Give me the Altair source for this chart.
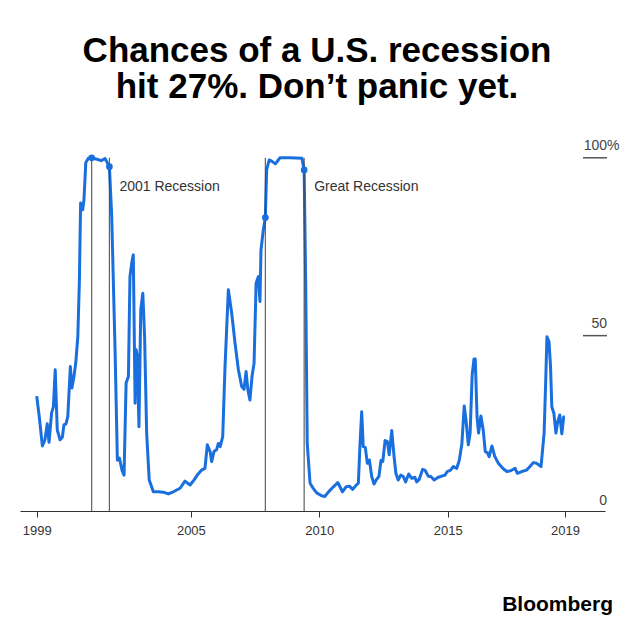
import altair as alt
import pandas as pd

# ---------------- data ----------------
YEARS = [
    1999.00, 1999.10, 1999.22, 1999.32, 1999.41, 1999.48, 1999.58, 1999.65, 1999.72, 1999.80,
    1999.91, 2000.00, 2000.06, 2000.14, 2000.21, 2000.31, 2000.37, 2000.45, 2000.52, 2000.60,
    2000.66, 2000.71, 2000.79, 2000.84, 2000.91, 2001.01, 2001.14, 2001.34, 2001.51, 2001.66,
    2001.72, 2001.83, 2001.92, 2002.05, 2002.14, 2002.22, 2002.32, 2002.40, 2002.48, 2002.57,
    2002.63, 2002.70, 2002.76, 2002.83, 2002.87, 2002.92, 2002.98, 2003.05, 2003.13, 2003.20,
    2003.28, 2003.38, 2003.54, 2003.73, 2003.93, 2004.12, 2004.32, 2004.58, 2004.77, 2004.97,
    2005.12, 2005.25, 2005.42, 2005.55, 2005.64, 2005.75, 2005.81, 2005.90, 2006.00, 2006.07,
    2006.14, 2006.24, 2006.33, 2006.46, 2006.59, 2006.72, 2006.85, 2006.98, 2007.07, 2007.15,
    2007.22, 2007.30, 2007.38, 2007.46, 2007.54, 2007.63, 2007.69, 2007.73, 2007.82, 2007.90,
    2007.95, 2008.05, 2008.16, 2008.29, 2008.47, 2008.86, 2009.32, 2009.41, 2009.47, 2009.53,
    2009.64, 2009.77, 2009.90, 2010.09, 2010.22, 2010.35, 2010.55, 2010.72, 2010.90, 2011.04,
    2011.17, 2011.30, 2011.43, 2011.52, 2011.58, 2011.65, 2011.71, 2011.79, 2011.87, 2011.95,
    2012.04, 2012.13, 2012.23, 2012.32, 2012.40, 2012.47, 2012.56, 2012.65, 2012.72, 2012.82,
    2012.91, 2012.98, 2013.07, 2013.17, 2013.27, 2013.36, 2013.48, 2013.60, 2013.72, 2013.79,
    2013.89, 2014.02, 2014.11, 2014.24, 2014.34, 2014.47, 2014.63, 2014.89, 2014.98, 2015.11,
    2015.22, 2015.35, 2015.45, 2015.55, 2015.64, 2015.71, 2015.80, 2015.87, 2015.95, 2016.02,
    2016.07, 2016.14, 2016.20, 2016.29, 2016.38, 2016.46, 2016.54, 2016.61, 2016.72, 2016.83,
    2016.97, 2017.14, 2017.30, 2017.45, 2017.62, 2017.71, 2017.88, 2018.07, 2018.20, 2018.33,
    2018.46, 2018.63, 2018.75, 2018.81, 2018.86, 2018.94, 2019.00, 2019.05, 2019.13, 2019.21,
    2019.28, 2019.36, 2019.44, 2019.51, 2019.56,
]
VALUES = [
    33.0, 27.2, 19.0, 20.7, 25.2, 20.0, 28.3, 30.0, 40.4, 23.5,
    20.7, 21.5, 24.9, 25.2, 27.2, 41.3, 35.3, 38.5, 42.3, 49.7,
    64.8, 87.3, 85.4, 88.2, 98.6, 99.9, 100.0, 99.6, 99.2, 99.8,
    99.0, 97.5, 83.5, 46.0, 15.0, 15.6, 12.2, 10.8, 36.7, 38.5,
    66.6, 70.5, 72.7, 31.0, 46.0, 44.1, 24.4, 57.2, 61.9, 49.7,
    22.6, 9.4, 6.1, 6.1, 6.0, 5.5, 6.1, 7.1, 9.1, 8.0,
    9.4, 10.8, 12.2, 12.7, 19.3, 17.4, 14.6, 17.4, 17.9, 19.7,
    18.8, 21.6, 41.3, 62.9, 56.3, 47.9, 40.4, 35.7, 34.9, 39.9,
    34.7, 31.9, 38.5, 42.2, 64.8, 66.6, 59.6, 74.1, 79.7, 83.2,
    96.6, 99.4, 99.0, 98.3, 100.0, 100.0, 99.9, 96.6, 64.8, 19.7,
    8.5, 7.0, 5.8, 5.0, 4.8, 6.0, 7.5, 8.7, 6.1, 7.5,
    7.7, 6.8, 7.9, 8.5, 18.8, 28.6, 18.8, 18.6, 14.1, 15.0,
    10.4, 8.3, 9.6, 10.4, 14.9, 14.6, 20.5, 20.2, 16.5, 23.3,
    16.0, 11.3, 9.4, 10.8, 10.4, 8.9, 11.1, 9.9, 10.2, 8.9,
    9.6, 12.4, 12.2, 10.5, 10.4, 9.4, 10.2, 10.8, 11.8, 12.2,
    13.2, 12.7, 15.0, 19.7, 30.2, 26.3, 19.3, 22.6, 39.0, 43.4,
    43.4, 27.2, 22.6, 27.4, 23.5, 17.4, 17.1, 16.0, 19.0, 16.0,
    14.1, 12.7, 11.8, 12.0, 12.7, 11.3, 11.8, 12.2, 13.2, 14.3,
    14.1, 13.2, 22.6, 36.6, 49.7, 48.3, 41.3, 30.0, 28.2, 22.6,
    25.8, 27.7, 22.4, 27.1, 27.1,
]

REC_NAMES = ["2001 Recession", "Great Recession"]
REC_START = [2001.14, 2007.90]
REC_END = [2001.83, 2009.41]

DOT_YEARS = [2001.14, 2001.83, 2007.90, 2009.41]
DOT_VALUES = [100.0, 97.5, 83.2, 96.6]

X_TICKS = [1999, 2005, 2010, 2015, 2019.56]
X_TICK_LABELS = ["1999", "2005", "2010", "2015", "2019"]

Y_LABEL_VALUES = [100, 50, 0]
Y_LABEL_TEXT = ["100", "50", "0"]
Y_RULE_VALUES = [100, 50]

TITLE_LINES = ["Chances of a U.S. recession", "hit 27%. Don\u2019t panic yet."]
SOURCE = "Bloomberg"

# ---------------- tables ----------------
line_df = pd.DataFrame({"Year": YEARS, "Value": VALUES})
bound_df = pd.DataFrame({"Year": REC_START + REC_END})
rec_df = pd.DataFrame({"Year": REC_END, "Name": REC_NAMES})
dot_df = pd.DataFrame({"Year": DOT_YEARS, "Value": DOT_VALUES})
ylab_df = pd.DataFrame({"Value": Y_LABEL_VALUES, "Label": Y_LABEL_TEXT})
yrule_df = pd.DataFrame({"Value": Y_RULE_VALUES})
pct_df = pd.DataFrame({"Value": [Y_LABEL_VALUES[0]], "Label": ["%"]})

W, H = 585, 371
BLUE = "#1a6fdf"
DARK = "#333333"
FONT = "Liberation Sans"

label_expr = "[{}][indexof([{}], datum.value)]".format(
    ",".join("'%s'" % s for s in X_TICK_LABELS),
    ",".join(str(v) for v in X_TICKS),
)

xscale = alt.Scale(domain=[1998.35, 2021.12], nice=False, zero=False)
yscale = alt.Scale(domain=[0.7, 105.0], nice=False, zero=False)
xaxis = alt.Axis(
    values=X_TICKS, labelExpr=label_expr, title=None, grid=False,
    domainColor=DARK, domainWidth=1, tickColor=DARK, tickSize=6, tickWidth=1,
    labelFontSize=13, labelColor=DARK, labelFont=FONT, labelPadding=7,
)
X = alt.X("Year:Q", scale=xscale, axis=xaxis)
Y = alt.Y("Value:Q", scale=yscale, axis=None)

line = alt.Chart(line_df).mark_line(color=BLUE, strokeWidth=3, strokeJoin="round").encode(x=X, y=Y)

bounds = alt.Chart(bound_df).mark_rule(color="#444444", strokeWidth=1.2, opacity=0.85).encode(
    x=X, y=alt.Y(datum=100, scale=yscale, axis=None), y2=alt.value(H)
)

dots = alt.Chart(dot_df).mark_circle(color=BLUE, size=45, opacity=1).encode(x=X, y=Y)

rec_text = alt.Chart(rec_df).mark_text(
    align="left", baseline="alphabetic", dx=10, fontSize=14, font=FONT, color=DARK
).encode(x=X, y=alt.value(51), text="Name:N")

ylabels = alt.Chart(ylab_df).mark_text(
    align="right", baseline="alphabetic", dy=-8, fontSize=14, font=FONT, color="#444444"
).encode(x=alt.value(587), y=Y, text="Label:N")

pct = alt.Chart(pct_df).mark_text(
    align="left", baseline="alphabetic", dy=-8, fontSize=14, font=FONT, color="#444444"
).encode(x=alt.value(587), y=Y, text="Label:N")

yrules = alt.Chart(yrule_df).mark_rule(color="#555555", strokeWidth=1.5).encode(
    y=Y, x=alt.value(563), x2=alt.value(587)
)

title1 = alt.Chart(pd.DataFrame({"t": [TITLE_LINES[0]]})).mark_text(
    align="center", baseline="alphabetic", fontSize=35, fontWeight="bold", font=FONT, color="#000000"
).encode(x=alt.value(297), y=alt.value(-78), text="t:N")

title2 = alt.Chart(pd.DataFrame({"t": [TITLE_LINES[1]]})).mark_text(
    align="center", baseline="alphabetic", fontSize=35, fontWeight="bold", font=FONT, color="#000000"
).encode(x=alt.value(297), y=alt.value(-42), text="t:N")

source = alt.Chart(pd.DataFrame({"t": [SOURCE]})).mark_text(
    align="right", baseline="alphabetic", fontSize=21, fontWeight="bold", font=FONT, color="#000000"
).encode(x=alt.value(593), y=alt.value(471), text="t:N")

chart = alt.layer(
    line, bounds, dots, rec_text, ylabels, pct, yrules, title1, title2, source
).properties(
    width=W, height=H,
    autosize=alt.AutoSizeParams(type="none"),
    padding={"left": 12, "top": 132, "right": 27, "bottom": 119},
    background="white",
).configure_view(stroke=None)

chart.save("out.html", embed_options={"renderer": "svg", "actions": False})
